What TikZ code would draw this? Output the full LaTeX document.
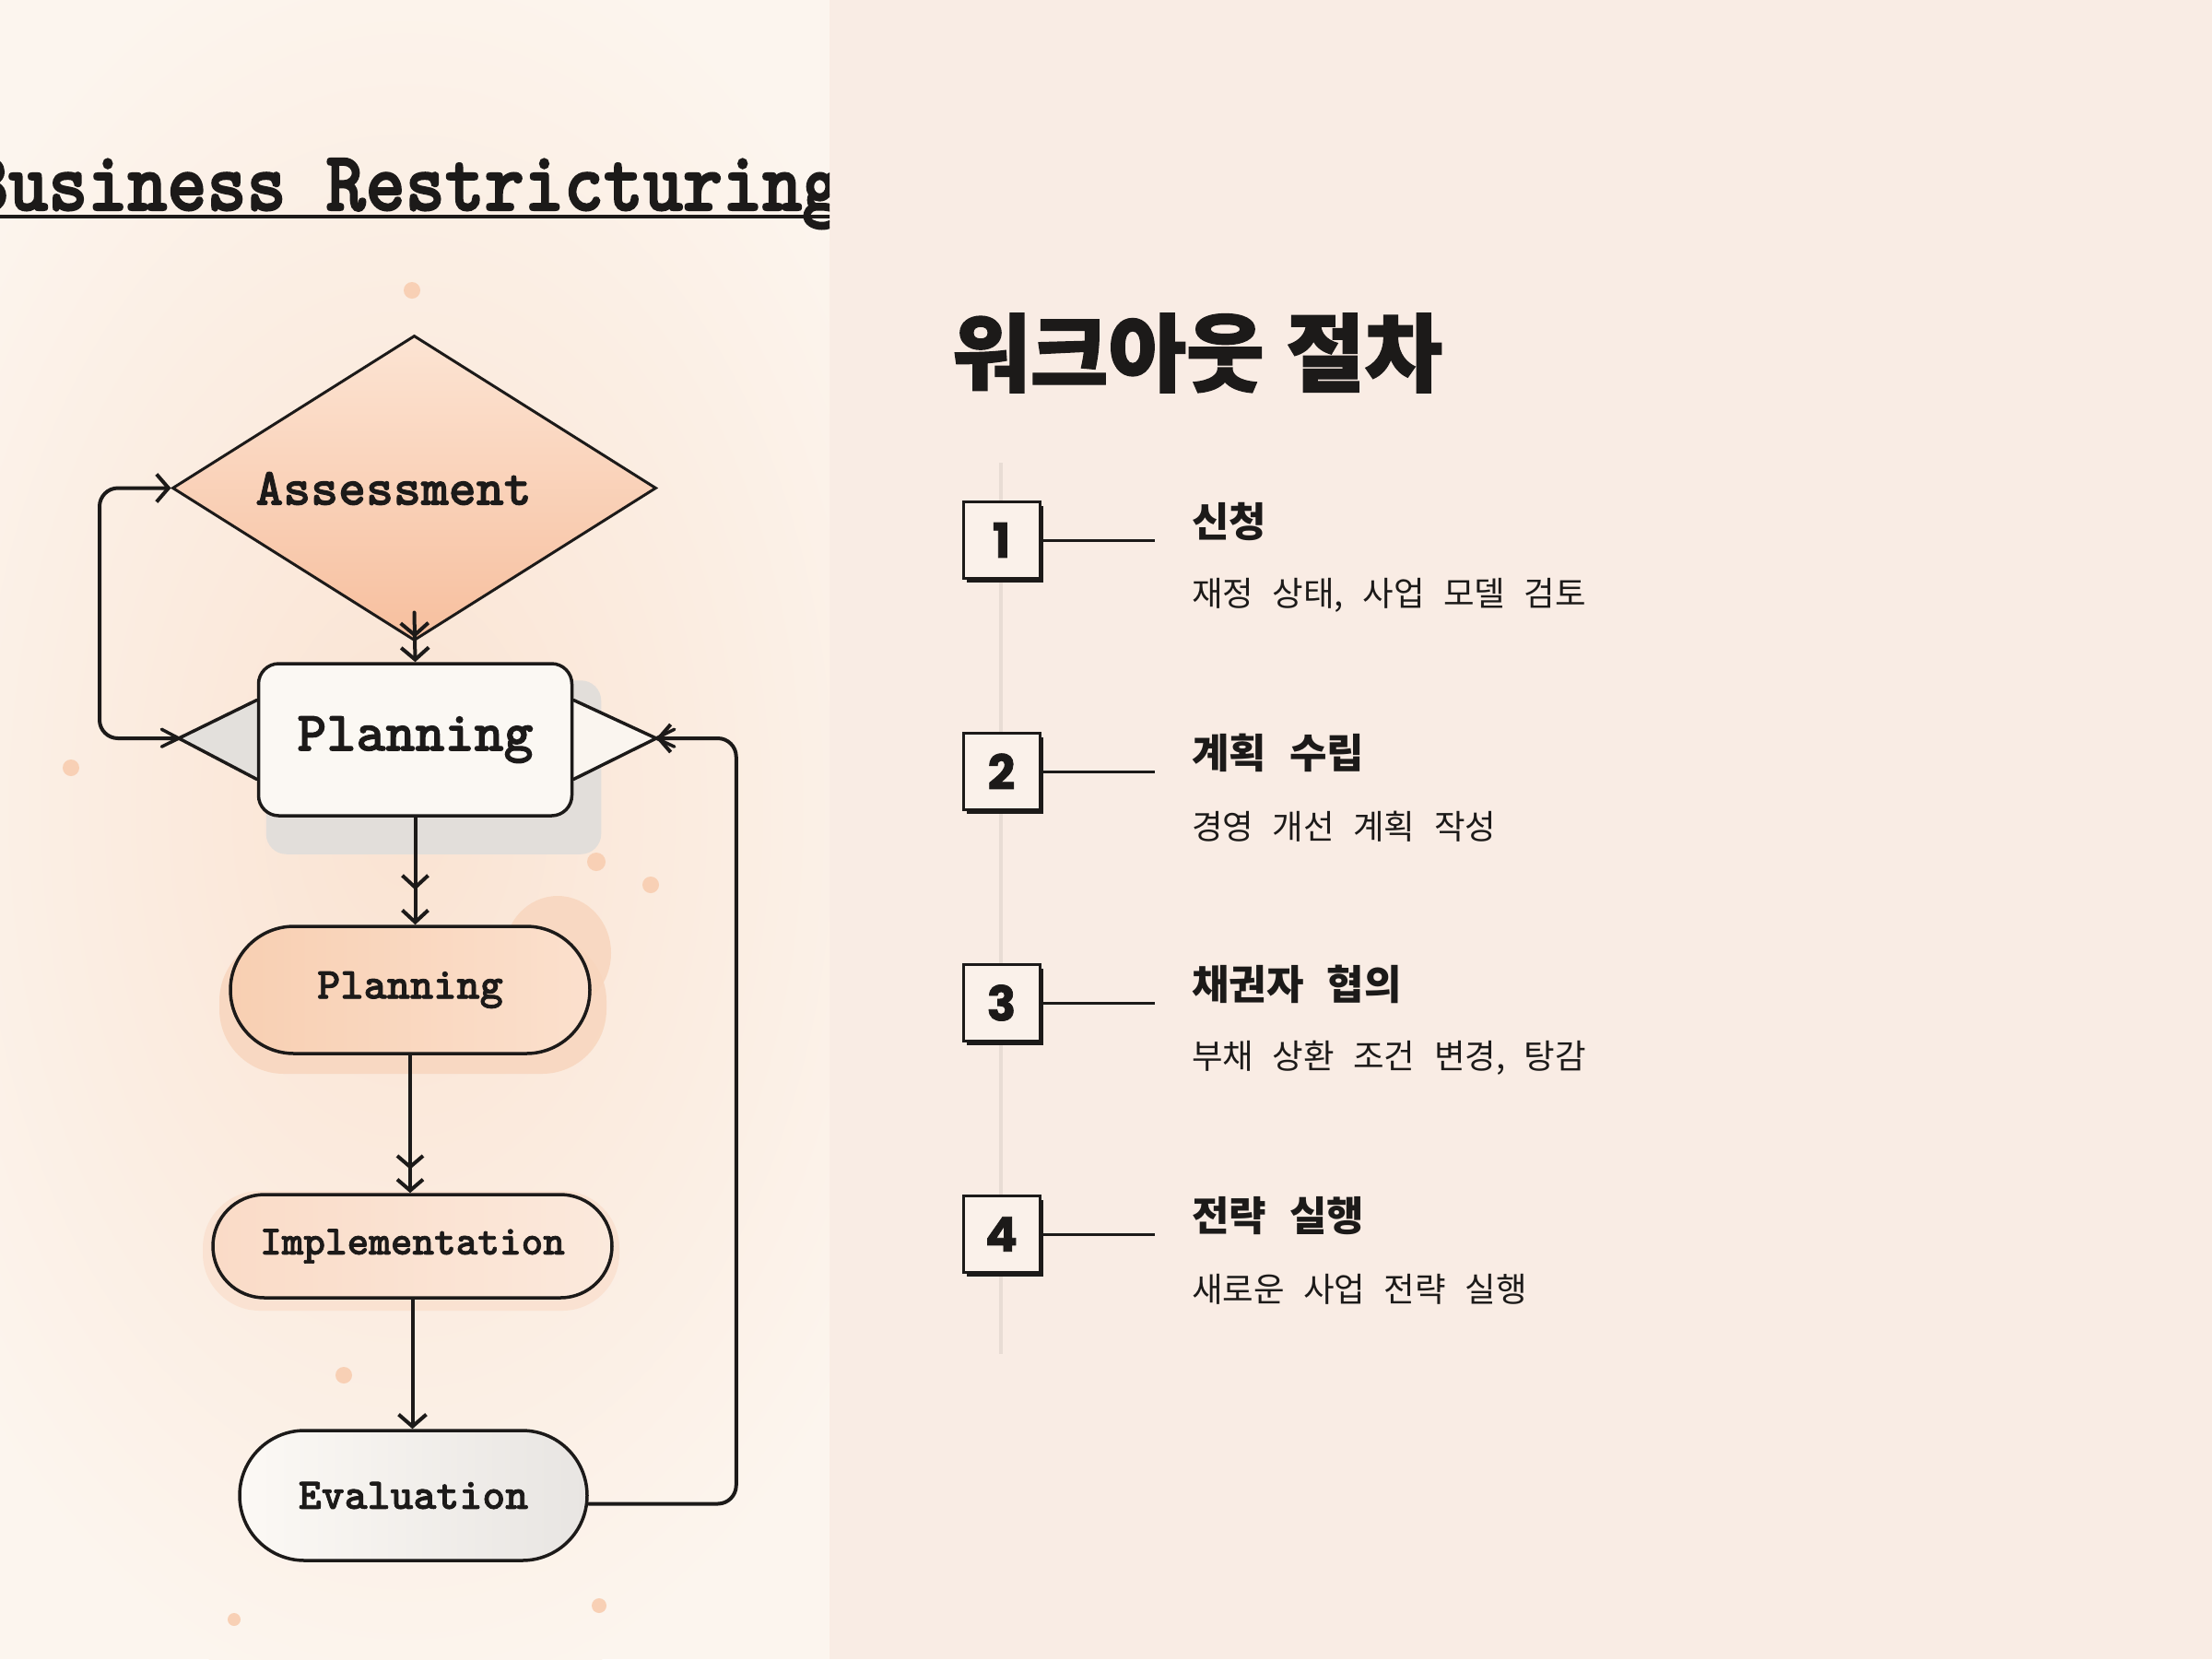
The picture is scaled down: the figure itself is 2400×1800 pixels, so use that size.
\documentclass[tikz,border=0pt]{standalone}
\usepackage{fontspec}
\usetikzlibrary{shapes.geometric,shapes.misc,arrows.meta,calc,shadows}
\newfontfamily\krtitle{Noto Sans CJK KR}[WordSpace=1.15, BoldFeatures={FakeBold=1.5}]
\newfontfamily\krhead{Noto Sans CJK KR}[WordSpace=0.3]
\newfontfamily\krsp{Noto Sans CJK KR}[WordSpace=2.5]
\newfontfamily\numf{Poppins}[BoldFeatures={FakeBold=1.5}]
\newfontfamily\cour{lmmonolt10-bold.otf}[FakeBold=1.6]
\newfontfamily\courtitle{lmmonolt10-bold.otf}[FakeBold=2.2]
\definecolor{leftbg}{HTML}{FCF5EE}
\definecolor{glowc}{HTML}{FAE3D2}
\definecolor{rightbg}{HTML}{F9ECE4}
\definecolor{inkc}{HTML}{1C1A19}
\definecolor{dotc}{HTML}{F8D0B5}
\definecolor{dtop}{HTML}{FCE4D3}
\definecolor{dbot}{HTML}{F7BF9E}
\definecolor{hexfill}{HTML}{FBF8F3}
\definecolor{wingL}{HTML}{E3E0DC}
\definecolor{wingR}{HTML}{FAF5EF}
\definecolor{shadowg}{HTML}{E2DEDA}
\definecolor{pOneL}{HTML}{F8CFB2}
\definecolor{pOneR}{HTML}{FBE0CD}
\definecolor{blobc}{HTML}{F8D6BE}
\definecolor{implL}{HTML}{FADBC7}
\definecolor{implR}{HTML}{FBE9DC}
\definecolor{implglow}{HTML}{FAE0CE}
\definecolor{evalL}{HTML}{FCF9F5}
\definecolor{evalR}{HTML}{E8E5E2}
\definecolor{tlc}{HTML}{E8DCD4}
\definecolor{numfill}{HTML}{FAF1EA}
\pgfdeclarelayer{bg}\pgfdeclarelayer{mid}\pgfsetlayers{bg,mid,main}
\tikzset{
  conn/.style={draw=inkc, line width=4pt, line cap=round, line join=round},
  flowbox/.style={draw=inkc, line width=3.5pt, inner sep=0pt, text=inkc},
  pill/.style={flowbox, rounded rectangle},
  numbox/.style={draw=inkc, line width=3pt, fill=numfill, minimum size=83pt, inner sep=0pt,
     text=inkc, font=\numf\bfseries\fontsize{52pt}{52pt}\selectfont,
     drop shadow={shadow xshift=4pt, shadow yshift=-4pt, fill=inkc, opacity=1}},
  headtxt/.style={anchor=west, inner sep=0pt, text=inkc, font=\krhead\bfseries\fontsize{44pt}{50pt}\selectfont},
  desctxt/.style={anchor=west, inner sep=0pt, text=inkc, font=\krsp\fontsize{36.5pt}{42pt}\selectfont},
}
\begin{document}
\begin{tikzpicture}[x=1pt,y=-1pt]
\useasboundingbox (0,0) rectangle (2400,1800);
\begin{pgfonlayer}{bg}
  \fill[leftbg] (0,0) rectangle (900,1800);
  \begin{scope}
    \clip (0,0) rectangle (900,1800);
    \shade[inner color=glowc, outer color=leftbg] (440,880) ellipse (620pt and 980pt);
  \end{scope}
  \fill[rightbg] (900,0) rectangle (2400,1800);
  \foreach \p/\r in {{(447,315)}/9, {(77,833)}/9, {(647,935)}/10, {(706,960)}/9, {(373,1492)}/9, {(254,1757)}/7, {(650,1742)}/8}
    \fill[dotc] \p circle (\r pt);
\end{pgfonlayer}

% title
\begin{scope}
  \clip (0,0) rectangle (900,1800);
  \node[anchor=base west, inner sep=0pt, text=inkc, font=\courtitle\fontsize{82pt}{90pt}\selectfont] (title) at (-34,228) {\scalebox{1}[1.12]{Business Restricturing}};
  \draw[inkc, line width=4.5pt] ([yshift=-7pt]title.base west) -- ([yshift=-7pt]title.base east);
\end{scope}

% flowchart nodes
\node[diamond, flowbox, line width=3pt, minimum width=525pt, minimum height=331pt, top color=dtop, bottom color=dbot] (assess) at (449.5,529.5) {};
\node[inner sep=0pt, text=inkc, font=\cour\fontsize{57pt}{60pt}\selectfont] (assessT) at (427,530) {Assessment};
\node[flowbox, rounded corners=22pt, fill=hexfill, minimum width=340pt, minimum height=165pt, font=\cour\fontsize{61pt}{64pt}\selectfont] (plan) at (450.5,802.5) {Planning};
\coordinate (lp) at (194,801);
\coordinate (rp) at (712,801);
\node[pill, minimum width=390pt, minimum height=138pt, left color=pOneL, right color=pOneR, font=\cour\fontsize{48pt}{50pt}\selectfont] (plan2) at (445,1074) {Planning};
\node[pill, minimum width=433pt, minimum height=112pt, left color=implL, right color=implR, font=\cour\fontsize{45pt}{48pt}\selectfont] (impl) at (447.5,1352) {Implementation};
\node[pill, minimum width=377pt, minimum height=141pt, left color=evalL, right color=evalR, font=\cour\fontsize{47.5pt}{50pt}\selectfont] (eval) at (448.5,1622.5) {Evaluation};

\begin{pgfonlayer}{mid}
  \fill[shadowg, rounded corners=22pt] ($(plan.north west)+(10,20)$) rectangle ($(plan.south east)+(30,40)$);
  \coordinate (lt) at ($(plan.west)+(0,-43)$);
  \coordinate (lb) at ($(plan.west)+(0,43)$);
  \coordinate (rt) at ($(plan.east)+(0,-43)$);
  \coordinate (rb) at ($(plan.east)+(0,43)$);
  \fill[wingL] (lt) -- (lp) -- (lb) -- cycle;
  \fill[wingR] (rt) -- (rp) -- (rb) -- cycle;
  \draw[conn, line width=3.5pt] (lt) -- ($(lt)!1.22!(lp)$);
  \draw[conn, line width=3.5pt] (lb) -- ($(lb)!1.22!(lp)$);
  \draw[conn, line width=3.5pt] (rt) -- ($(rt)!1.22!(rp)$);
  \draw[conn, line width=3.5pt] (rb) -- ($(rb)!1.22!(rp)$);
  \fill[blobc, opacity=0.85, rounded corners=70pt] (238,1016) rectangle (658,1165);
  \fill[blobc, opacity=0.85] (605,1034) ellipse (58pt and 62pt);
  \fill[implglow, opacity=0.8, rounded corners=62pt] (220,1292) rectangle (672,1422);
\end{pgfonlayer}

% connectors
\draw[conn, -{Straight Barb[length=13pt,width=30pt,sep=9pt] Straight Barb[length=13pt,width=30pt]}] ([yshift=32pt]assess.south) -- (plan.north);
\draw[conn, -{Straight Barb[length=13pt,width=28pt,sep=20pt] Straight Barb[length=13pt,width=28pt]}] (plan.south) -- (plan.south |- plan2.north);
\draw[conn, -{Straight Barb[length=12pt,width=28pt,sep=9pt] Straight Barb[length=12pt,width=28pt]}] (plan2.south) -- (plan2.south |- impl.north);
\draw[conn, -{Straight Barb[length=13pt,width=30pt]}] (impl.south) -- (impl.south |- eval.north);
\draw[conn, rounded corners=20pt, -{Straight Barb[length=13pt,width=30pt]}] (lp) -- ++(-86,0) |- (assess.west);
\draw[conn, rounded corners=20pt, -{Straight Barb[length=13pt,width=30pt]}] ([yshift=-9pt]eval.east) -- ++(160,0) |- (rp);

% right panel
\node[anchor=west, inner sep=0pt, text=inkc, font=\krtitle\bfseries\fontsize{92pt}{100pt}\selectfont] (rtitle) at (1033,383) {워크아웃 절차};
\coordinate (tl1) at (1086,502);
\coordinate (tl2) at (1086,1469);
\draw[tlc, line width=4pt] (tl1) -- (tl2);
\foreach \i/\y/\h/\d in {1/586/신청/{재정 상태, 사업 모델 검토}, 2/837/계획 수립/경영 개선 계획 작성, 3/1088/채권자 협의/{부채 상환 조건 변경, 탕감}, 4/1339/전략 실행/새로운 사업 전략 실행}{
  \node[numbox] (n\i) at (1086.5,\y) {\i};
  \coordinate (e\i) at (1253,\y);
  \draw[inkc, line width=3pt] (n\i) -- (e\i);
  \node[headtxt] (h\i) at (1293,\y-20) {\h};
  \node[desctxt] (d\i) at (1293,\y+60) {\d};
}
\end{tikzpicture}
\end{document}
